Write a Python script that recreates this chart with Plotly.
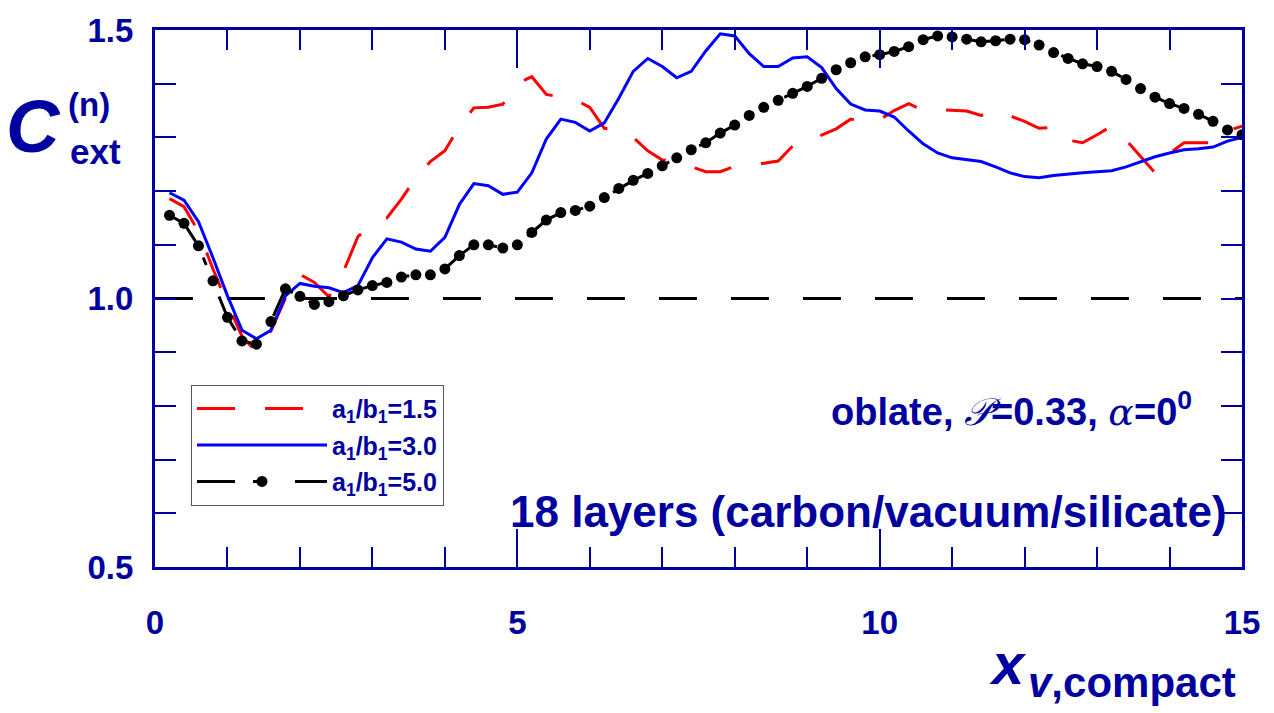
import plotly.graph_objects as go

# ---------------- data ----------------
x_vals = [0.2, 0.4, 0.6, 0.8, 1.0, 1.2, 1.4, 1.6, 1.8, 2.0,
          2.2, 2.4, 2.6, 2.8, 3.0, 3.2, 3.4, 3.6, 3.8, 4.0,
          4.2, 4.4, 4.6, 4.8, 5.0, 5.2, 5.4, 5.6, 5.8, 6.0,
          6.2, 6.4, 6.6, 6.8, 7.0, 7.2, 7.4, 7.6, 7.8, 8.0,
          8.2, 8.4, 8.6, 8.8, 9.0, 9.2, 9.4, 9.6, 9.8, 10.0,
          10.2, 10.4, 10.6, 10.8, 11.0, 11.2, 11.4, 11.6, 11.8, 12.0,
          12.2, 12.4, 12.6, 12.8, 13.0, 13.2, 13.4, 13.6, 13.8, 14.0,
          14.2, 14.4, 14.6, 14.8, 15.0]

c_ab15 = [1.186, 1.171, 1.125, 1.055, 0.990, 0.930, 0.900, 0.940, 1.000, 1.045,
          1.030, 1.003, 1.050, 1.115, 1.140, 1.150, 1.185, 1.225, 1.255, 1.275,
          1.320, 1.355, 1.356, 1.362, 1.400, 1.413, 1.380, 1.375, 1.370, 1.356,
          1.317, 1.313, 1.300, 1.275, 1.258, 1.255, 1.245, 1.236, 1.236, 1.246,
          1.250, 1.252, 1.256, 1.284, 1.293, 1.305, 1.316, 1.334, 1.330, 1.333,
          1.350, 1.363, 1.350, 1.352, 1.350, 1.349, 1.341, 1.349, 1.340, 1.330,
          1.317, 1.319, 1.295, 1.290, 1.305, 1.321, 1.295, 1.265, 1.234, 1.270,
          1.290, 1.290, 1.290, 1.312, 1.321]

c_ab30 = [1.197, 1.183, 1.143, 1.076, 1.005, 0.941, 0.925, 0.941, 1.005, 1.028,
          1.023, 1.020, 1.011, 1.024, 1.076, 1.111, 1.105, 1.092, 1.088, 1.114,
          1.175, 1.214, 1.210, 1.194, 1.198, 1.234, 1.297, 1.334, 1.328, 1.312,
          1.327, 1.373, 1.423, 1.447, 1.432, 1.411, 1.423, 1.461, 1.493, 1.489,
          1.456, 1.432, 1.432, 1.448, 1.450, 1.430, 1.391, 1.362, 1.351, 1.349,
          1.338, 1.312, 1.288, 1.271, 1.262, 1.258, 1.255, 1.245, 1.234, 1.227,
          1.225, 1.229, 1.232, 1.234, 1.236, 1.238, 1.245, 1.255, 1.264, 1.271,
          1.277, 1.279, 1.282, 1.293, 1.300]

c_ab50 = [1.155, 1.140, 1.098, 1.033, 0.965, 0.921, 0.915, 0.957, 1.018, 1.004,
          0.989, 0.994, 1.005, 1.016, 1.024, 1.030, 1.040, 1.044, 1.044, 1.055,
          1.080, 1.100, 1.100, 1.094, 1.100, 1.123, 1.146, 1.160, 1.164, 1.172,
          1.188, 1.205, 1.220, 1.233, 1.247, 1.262, 1.277, 1.290, 1.308, 1.323,
          1.341, 1.356, 1.369, 1.382, 1.395, 1.410, 1.426, 1.439, 1.450, 1.454,
          1.460, 1.469, 1.482, 1.489, 1.487, 1.483, 1.478, 1.480, 1.483, 1.482,
          1.472, 1.458, 1.447, 1.437, 1.432, 1.423, 1.408, 1.391, 1.375, 1.363,
          1.354, 1.343, 1.330, 1.314, 1.305]

series_names = ["a<sub>1</sub>/b<sub>1</sub>=1.5",
                "a<sub>1</sub>/b<sub>1</sub>=3.0",
                "a<sub>1</sub>/b<sub>1</sub>=5.0"]

ref_level = 1.0
x_range = [0, 15]
y_range = [0.5, 1.5]
x_tick_vals = [0, 5, 10, 15]
y_tick_vals = [0.5, 1.0, 1.5]

# ---------------- style ----------------
NAVY = "#0000A0"
FONT = "Liberation Sans, Arial, sans-serif"

fig = go.Figure()

fig.add_trace(go.Scatter(
    x=x_vals, y=c_ab15, mode="lines", name=series_names[0],
    legendgroup="g1",
    line=dict(color="#FF0000", width=3, dash="38px,30px"),
))
fig.add_trace(go.Scatter(
    x=x_vals, y=c_ab30, mode="lines", name=series_names[1],
    legendgroup="g2",
    line=dict(color="#0000FF", width=3),
))
fig.add_trace(go.Scatter(
    x=x_vals, y=c_ab50, mode="lines+markers", name=series_names[2],
    legendgroup="g3",
    line=dict(color="#000000", width=3, dash="38px,18px,8px,34px"),
    marker=dict(color="#000000", size=11, symbol="circle"),
))

fig.add_hline(y=ref_level, line=dict(color="#000000", width=3, dash="38px,34px"),
              layer="below")

axis_common = dict(
    showline=True, linewidth=3, linecolor=NAVY, mirror="ticks",
    ticks="inside", tickcolor=NAVY, tickwidth=2,
    showgrid=False, zeroline=False,
    tickfont=dict(family=FONT, size=33, color=NAVY, weight="bold"),
)

fig.update_xaxes(
    range=x_range, tickvals=x_tick_vals, ticklen=38,
    minor=dict(dtick=1, ticklen=20, tickwidth=2, tickcolor=NAVY, ticks="inside", showgrid=False),
    ticklabelstandoff=24,
    **axis_common,
)
fig.update_yaxes(
    range=y_range, tickvals=y_tick_vals, tickformat=".1f", ticklen=21,
    minor=dict(dtick=0.1, ticklen=21, tickwidth=2, tickcolor=NAVY, ticks="inside", showgrid=False),
    ticklabelstandoff=12,
    **axis_common,
)

annos = [
    # y-axis label  C^(n)_ext
    dict(text="<i>C</i>", x=(33 - 155) / 1087, y=(567 - 122) / 542, size=74),
    dict(text="(n)", x=(89 - 155) / 1087, y=(567 - 100) / 542, size=33),
    dict(text="ext", x=(95 - 155) / 1087, y=(567 - 148) / 542, size=35),
    # x-axis label
    dict(text="<i>x</i>", x=(1008 - 155) / 1087, y=(567 - 664) / 542, size=58),
    dict(text="<i>v</i>,compact", x=(1238 - 155) / 1087, y=(567 - 684) / 542, size=42,
         xanchor="right"),
    # in-plot texts
    dict(text="oblate, <span style='font-family:DejaVu Serif;font-weight:normal'><i>𝒫</i></span>=0.33, "
              "<span style='font-family:DejaVu Serif;font-weight:normal'><i>α</i></span>=0<sup>0</sup>",
         x=(1194 - 155) / 1087, y=(567 - 408) / 542, size=38, xanchor="right"),
    dict(text="18 layers (carbon/vacuum/silicate)",
         x=(1229 - 155) / 1087, y=(567 - 511) / 542, size=44, xanchor="right"),
]
for a in annos:
    fig.add_annotation(
        text=a["text"], xref="paper", yref="paper", x=a["x"], y=a["y"],
        xanchor=a.get("xanchor", "center"), yanchor="middle", showarrow=False,
        font=dict(family=FONT, size=a["size"], color=NAVY, weight="bold"),
    )

fig.update_layout(
    width=1274, height=713,
    margin=dict(l=155, r=32, t=25, b=146),
    paper_bgcolor="white", plot_bgcolor="white",
    showlegend=True,
    legend=dict(
        x=(191 - 155) / 1087, y=(567 - 383) / 542, xanchor="left", yanchor="top",
        bgcolor="white", bordercolor="#555555", borderwidth=1,
        font=dict(family=FONT, size=25, color=NAVY, weight="bold"),
        itemwidth=130, tracegroupgap=1,
    ),
)

fig.write_html("out.html")
